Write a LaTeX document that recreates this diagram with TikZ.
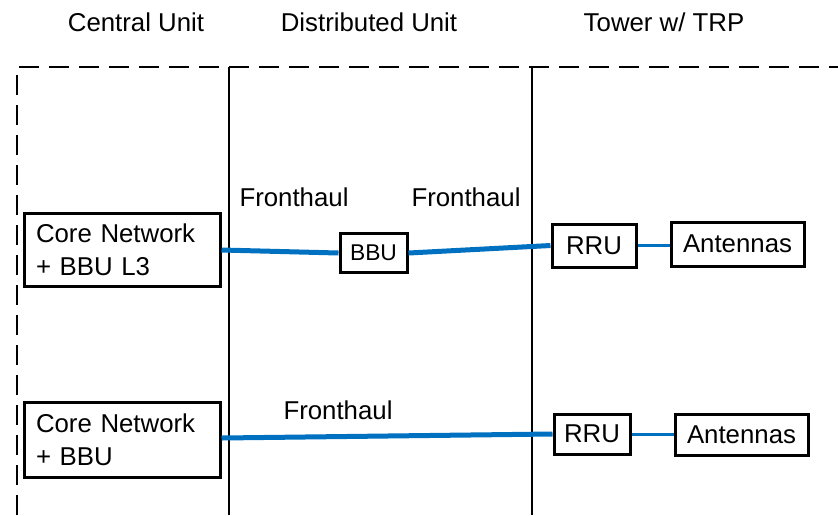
\documentclass[tikz,border=0pt]{standalone}
\usepackage{fontspec}
\setmainfont{Liberation Sans}
\begin{document}
\begin{tikzpicture}[x=0.5pt,y=-0.5pt,
  box/.style={draw=black,line width=1.5pt,inner sep=0pt,font=\fontsize{12.9}{16.5}\selectfont},
  lbl/.style={inner sep=0pt,font=\fontsize{12.9}{16.5}\selectfont},
  fh/.style={draw=fhblue,line width=2.5pt},
  fhthin/.style={draw=fhblue,line width=1.5pt},
  divider/.style={draw=black,line width=1pt}]
\definecolor{fhblue}{RGB}{0,112,192}
\useasboundingbox (0,0) rectangle (838,515);
% frame
\coordinate (fbl) at (17,515);
\coordinate (ftl) at (17,67);
\coordinate (ftr) at (838,67);
\draw[line width=1.2pt,dash pattern=on 10pt off 5pt] (fbl) -- (ftl) -- (ftr);
\coordinate (d1t) at (229,67); \coordinate (d1b) at (229,515);
\coordinate (d2t) at (532,67); \coordinate (d2b) at (532,515);
\draw[divider] (d1t) -- (d1b);
\draw[divider] (d2t) -- (d2b);
% headers
\node[lbl] (h1) at (136,22) {Central Unit};
\node[lbl] (h2) at (369,22) {Distributed Unit};
\node[lbl] (h3) at (664,22) {Tower w/ TRP};
% top row
\node[box,minimum width=98pt,minimum height=36.5pt,text width=86pt,align=left] (cn1) at (122,249.5) {Core Network\\+ BBU L3};
\node[box,minimum width=33.5pt,minimum height=19.5pt,font=\fontsize{11.4}{14}\selectfont] (bbu) at (373.5,253) {BBU};
\node[box,minimum width=42pt,minimum height=21.5pt] (rru1) at (594,245.5) {RRU};
\node[box,minimum width=66.5pt,minimum height=22pt] (ant1) at (737.5,244) {Antennas};
\node[lbl] (f1) at (294,197) {Fronthaul};
\node[lbl] (f2) at (466,197) {Fronthaul};
\draw[fh] (cn1.east |- 0,250) -- (bbu.west);
\draw[fh] (bbu.east) -- (rru1.west);
\draw[fhthin] (rru1.east) -- (rru1.east -| ant1.west);
% bottom row
\node[box,minimum width=98pt,minimum height=37.5pt,text width=86pt,align=left] (cn2) at (122,439.5) {Core Network\\+ BBU};
\node[box,minimum width=38pt,minimum height=20pt] (rru2) at (592,434) {RRU};
\node[box,minimum width=66.5pt,minimum height=20.5pt] (ant2) at (741.5,434.5) {Antennas};
\node[lbl] (f3) at (338,410) {Fronthaul};
\draw[fh] (cn2.east |- 0,438) -- (rru2.west);
\draw[fhthin] (rru2.east) -- (rru2.east -| ant2.west);
\end{tikzpicture}
\end{document}
